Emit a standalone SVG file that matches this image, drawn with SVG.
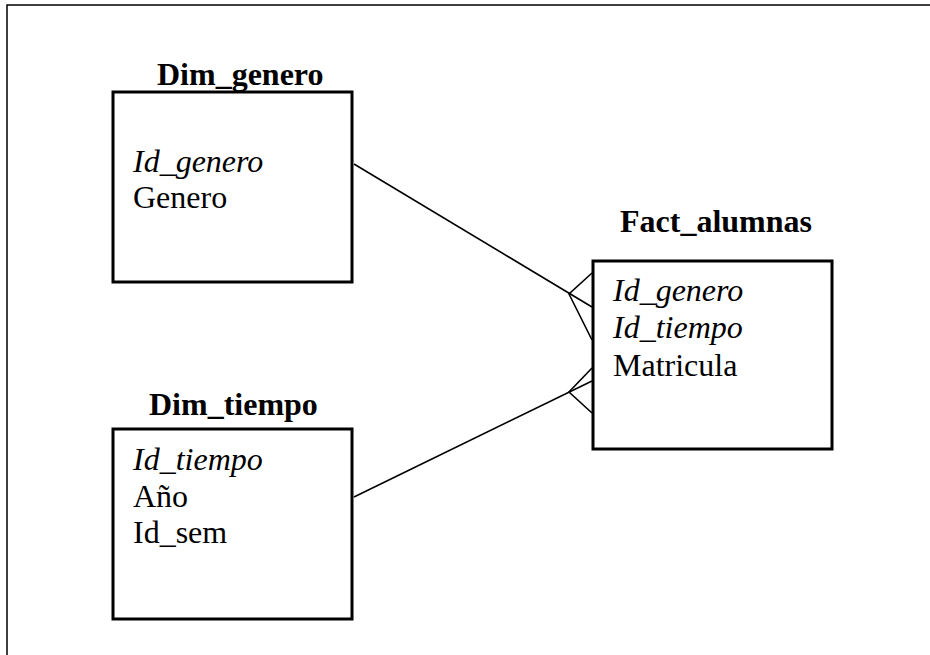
<svg xmlns="http://www.w3.org/2000/svg" width="930" height="655" viewBox="0 0 930 655">
  <style>
    .box { fill: #ffffff; stroke: #000000; stroke-width: 3; }
    .frame { fill: none; stroke: #000000; stroke-width: 1.5; }
    .title { font-family: "Liberation Serif", "Times New Roman", serif; font-size: 32px; font-weight: bold; fill: #000000; }
    .key { font-family: "Liberation Serif", "Times New Roman", serif; font-size: 32px; font-style: italic; fill: #000000; }
    .attr { font-family: "Liberation Serif", "Times New Roman", serif; font-size: 32px; fill: #000000; }
    .link { fill: none; stroke: #000000; stroke-width: 1.6; }
  </style>
  <rect width="930" height="655" fill="#ffffff"/>

  <!-- outer frame: top and left edges -->
  <path class="frame" d="M7,655 V5 H930"/>

  <!-- relationships with crow's-foot ends at the fact table -->
  <g id="connectors">
    <path class="link" d="M354,164 L592,307"/>
    <path class="link" d="M592,273 L569,294 L592,340"/>
    <path class="link" d="M354,497 L592,381"/>
    <path class="link" d="M592,368 L569,392 L592,413"/>
  </g>

  <g id="dim_genero">
    <text class="title" x="157" y="85">Dim_genero</text>
    <rect class="box" x="113" y="92" width="239" height="190"/>
    <text class="key" x="133" y="172">Id_genero</text>
    <text class="attr" x="133" y="208">Genero</text>
  </g>

  <g id="dim_tiempo">
    <text class="title" x="149" y="415">Dim_tiempo</text>
    <rect class="box" x="113" y="429" width="239" height="190"/>
    <text class="key" x="133" y="470">Id_tiempo</text>
    <text class="attr" x="133" y="507">Año</text>
    <text class="attr" x="133" y="543">Id_sem</text>
  </g>

  <g id="fact_alumnas">
    <text class="title" x="620" y="232">Fact_alumnas</text>
    <rect class="box" x="593" y="261" width="239" height="188"/>
    <text class="key" x="613" y="301">Id_genero</text>
    <text class="key" x="613" y="338">Id_tiempo</text>
    <text class="attr" x="613" y="376">Matricula</text>
  </g>
</svg>
